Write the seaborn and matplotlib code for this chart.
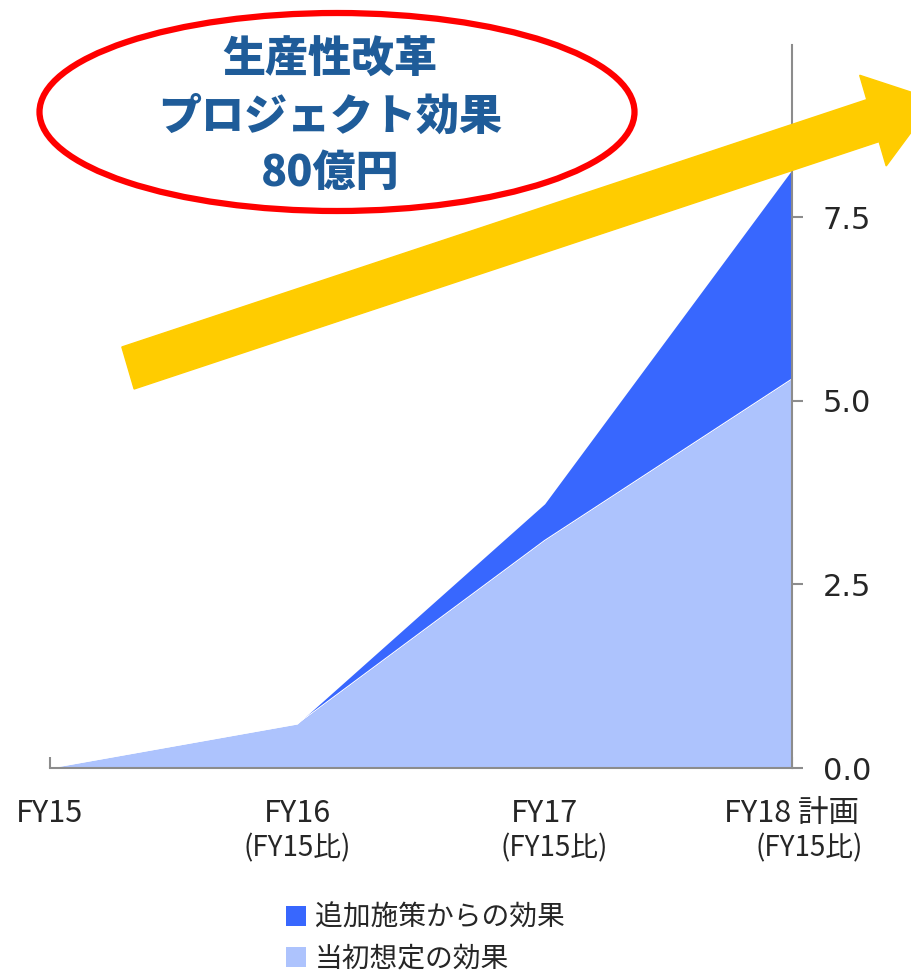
import matplotlib
matplotlib.use("Agg")
from matplotlib import pyplot as plt
from matplotlib.patches import Ellipse, FancyArrow, Patch
import seaborn as sns
import pandas as pd

# data
years = ["FY15", "FY16\n(FY15比)", "FY17\n(FY15比)", "FY18 計画\n(FY15比)"]
initial_effect = [0.0, 0.6, 3.1, 5.3]     # 当初想定の効果
added_effect = [0.0, 0.0, 0.5, 2.85]      # 追加施策からの効果
series_names = ["追加施策からの効果", "当初想定の効果"]

light_blue = "#ADC3FD"
dark_blue = "#3867FE"
gray = "#8C8C8C"

df = pd.DataFrame({"x": range(len(years)), "initial": initial_effect, "added": added_effect})
df["total"] = df["initial"] + df["added"]

sns.set_style("white")
plt.rcParams["font.family"] = ["Noto Sans CJK JP", "DejaVu Sans"]

fig = plt.figure(figsize=(9.12, 9.72), dpi=100)
ax = fig.add_axes([50 / 912, 1 - 768 / 972, 742 / 912, 723 / 972])

ax.fill_between(df["x"], 0, df["initial"], color=light_blue, linewidth=0)
ax.fill_between(df["x"], df["initial"], df["total"], color=dark_blue, linewidth=0)
sns.lineplot(x="x", y="initial", data=df, ax=ax, color="white", linewidth=0.8)

ax.set_xlim(0, 3)
ax.set_ylim(0, 9.85)
ax.set_xlabel("")
ax.set_ylabel("")

for s in ["top", "left"]:
    ax.spines[s].set_visible(False)
for s in ["bottom", "right"]:
    ax.spines[s].set_color(gray)
    ax.spines[s].set_linewidth(1.5)

ax.yaxis.tick_right()
ax.set_yticks([0, 2.5, 5.0, 7.5])
ax.set_yticklabels(["0.0", "2.5", "5.0", "7.5"])
ax.tick_params(axis="y", right=True, direction="out", length=8, width=1.5, color=gray,
               pad=14, labelsize=22, labelfontfamily="DejaVu Sans")

ax.set_xticks(df["x"])
ax.set_xticklabels([])
ax.tick_params(axis="x", bottom=True, direction="in", length=8, width=1.5, color=gray)

# x labels: two lines placed separately like the original
offsets2 = [0.0, 0.0, 0.04, 0.07]
for i, lab in enumerate(years):
    parts = lab.split("\n")
    ax.text(i, -0.62, parts[0], ha="center", va="center", fontsize=22, clip_on=False)
    if len(parts) > 1:
        ax.text(i + offsets2[i], -1.1, parts[1], ha="center", va="center", fontsize=20, clip_on=False)

# yellow arrow in figure coords
arrow = FancyArrow(128 / 912, 1 - 368 / 972, (935 - 128) / 912, (368 - 100) / 972,
                   width=44 / 972, head_width=95 / 972, head_length=65 / 912,
                   length_includes_head=True, color="#FFCC00", transform=fig.transFigure,
                   clip_on=False, zorder=5)
fig.patches.append(arrow)

# red ellipse with title text
ell = Ellipse((337 / 912, 1 - 112 / 972), 595 / 912, 198 / 972, transform=fig.transFigure,
              facecolor="white", edgecolor="#FF0000", linewidth=4.5, zorder=6)
fig.patches.append(ell)
for txt, yy in [("生産性改革", 60), ("プロジェクト効果", 117), ("80億円", 173)]:
    fig.text(330 / 912, 1 - yy / 972, txt, ha="center", va="center", fontsize=31,
             fontweight="heavy", color="#1F5C99", zorder=7)

handles = [Patch(facecolor=dark_blue, edgecolor="none"), Patch(facecolor=light_blue, edgecolor="none")]
fig.legend(handles, series_names, loc="center", bbox_to_anchor=(425 / 912, 1 - 938 / 972),
           frameon=False, fontsize=20, handlelength=0.75, handleheight=0.75,
           handletextpad=0.3, labelspacing=0.4)

fig.savefig("out.png", dpi=100)
